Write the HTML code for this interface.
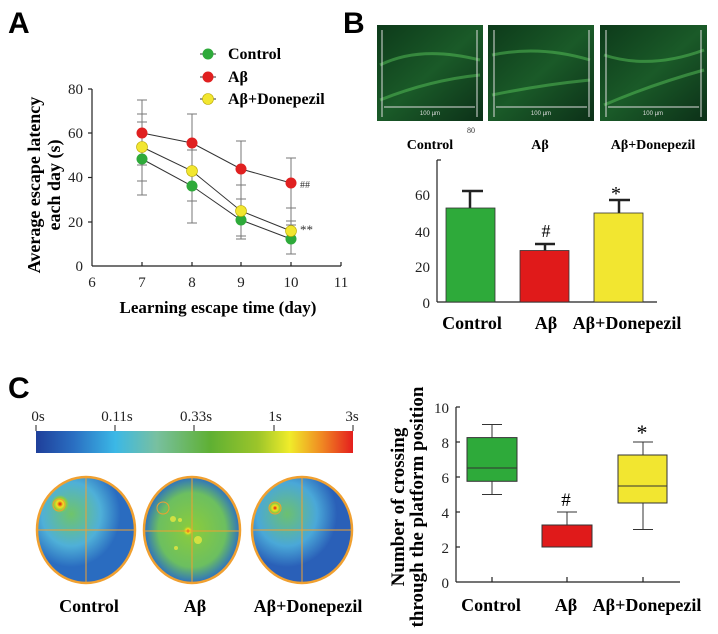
<!DOCTYPE html>
<html><head><meta charset="utf-8"><style>
body{margin:0;background:#fff}
svg{display:block;font-family:"Liberation Serif",serif}
.b{font-weight:bold}
.t{font-size:15px;fill:#222}
</style></head><body>
<svg width="718" height="634" viewBox="0 0 718 634" xmlns="http://www.w3.org/2000/svg">
<defs>
<linearGradient id="cb" x1="0" x2="1" y1="0" y2="0">
<stop offset="0" stop-color="#1f3f9a"/><stop offset="0.12" stop-color="#2a6fc2"/>
<stop offset="0.25" stop-color="#3bb8e6"/><stop offset="0.38" stop-color="#78c0a0"/>
<stop offset="0.55" stop-color="#5fb033"/><stop offset="0.7" stop-color="#9cc52a"/>
<stop offset="0.8" stop-color="#f0ec2a"/><stop offset="0.9" stop-color="#f08a22"/>
<stop offset="1" stop-color="#e41e1e"/></linearGradient>
<radialGradient id="hot"><stop offset="0" stop-color="#e01010"/><stop offset="0.35" stop-color="#f5e020"/><stop offset="0.7" stop-color="#8fcc3a"/><stop offset="1" stop-color="#8fcc3a" stop-opacity="0"/></radialGradient>
<radialGradient id="c1" cx="0.35" cy="0.35"><stop offset="0" stop-color="#6fc46a"/><stop offset="0.6" stop-color="#4fb0d8"/><stop offset="1" stop-color="#2a6cc0"/></radialGradient>
<radialGradient id="c2" cx="0.5" cy="0.5"><stop offset="0" stop-color="#8ccc3a"/><stop offset="0.7" stop-color="#6cbf60"/><stop offset="1" stop-color="#2d70c0"/></radialGradient>
<radialGradient id="c3" cx="0.35" cy="0.35"><stop offset="0" stop-color="#6cc070"/><stop offset="0.6" stop-color="#4aa8d8"/><stop offset="1" stop-color="#2a60b8"/></radialGradient>
<linearGradient id="mic" x1="0" y1="0" x2="1" y2="1"><stop offset="0" stop-color="#0d3a1a"/><stop offset="0.5" stop-color="#1a5a28"/><stop offset="1" stop-color="#0c3018"/></linearGradient>
</defs>

<!-- Panel A -->
<text x="8" y="33" font-family="Liberation Sans" font-weight="bold" font-size="30">A</text>
<g class="b" font-size="16">
<line x1="200" y1="54" x2="216" y2="54" stroke="#333"/><circle cx="208" cy="54" r="5.5" fill="#2eaa3a"/><text x="228" y="59">Control</text>
<line x1="200" y1="77" x2="216" y2="77" stroke="#333"/><circle cx="208" cy="77" r="5.5" fill="#e02020"/><text x="228" y="82">Aβ</text>
<line x1="200" y1="99" x2="216" y2="99" stroke="#333"/><circle cx="208" cy="99" r="5.5" fill="#f2e630" stroke="#b9a900" stroke-width="0.6"/><text x="228" y="104">Aβ+Donepezil</text>
</g>
<g stroke="#222" stroke-width="1.2" fill="none">
<line x1="92" y1="89" x2="92" y2="266"/><line x1="92" y1="266" x2="341" y2="266"/>
<line x1="88" y1="89" x2="92" y2="89"/><line x1="88" y1="133" x2="92" y2="133"/><line x1="88" y1="177.5" x2="92" y2="177.5"/><line x1="88" y1="222" x2="92" y2="222"/>
<line x1="142" y1="266" x2="142" y2="262"/><line x1="192" y1="266" x2="192" y2="262"/><line x1="241" y1="266" x2="241" y2="262"/><line x1="291" y1="266" x2="291" y2="262"/><line x1="341" y1="266" x2="341" y2="262"/>
</g>
<g class="t" text-anchor="end"><text x="83" y="94">80</text><text x="83" y="138">60</text><text x="83" y="182">40</text><text x="83" y="227">20</text><text x="83" y="271">0</text></g>
<g class="t" text-anchor="middle"><text x="92" y="287">6</text><text x="142" y="287">7</text><text x="192" y="287">8</text><text x="241" y="287">9</text><text x="291" y="287">10</text><text x="341" y="287">11</text></g>
<text x="218" y="313" text-anchor="middle" class="b" font-size="17">Learning escape time (day)</text>
<text transform="translate(40,185) rotate(-90)" text-anchor="middle" class="b" font-size="18">Average escape latency</text>
<text transform="translate(60,185) rotate(-90)" text-anchor="middle" class="b" font-size="18">each day (s)</text>
<g stroke="#777" stroke-width="1">
<line x1="142" y1="100" x2="142" y2="195"/><line x1="137" y1="100" x2="147" y2="100"/><line x1="137" y1="114" x2="147" y2="114"/><line x1="137" y1="122" x2="147" y2="122"/><line x1="137" y1="165" x2="147" y2="165"/><line x1="137" y1="181" x2="147" y2="181"/><line x1="137" y1="195" x2="147" y2="195"/>
<line x1="192" y1="114" x2="192" y2="223"/><line x1="187" y1="114" x2="197" y2="114"/><line x1="187" y1="150" x2="197" y2="150"/><line x1="187" y1="141" x2="197" y2="141"/><line x1="187" y1="201" x2="197" y2="201"/><line x1="187" y1="223" x2="197" y2="223"/>
<line x1="241" y1="141" x2="241" y2="239"/><line x1="236" y1="141" x2="246" y2="141"/><line x1="236" y1="185" x2="246" y2="185"/><line x1="236" y1="199" x2="246" y2="199"/><line x1="236" y1="236" x2="246" y2="236"/><line x1="236" y1="239" x2="246" y2="239"/>
<line x1="291" y1="158" x2="291" y2="254"/><line x1="286" y1="158" x2="296" y2="158"/><line x1="286" y1="208" x2="296" y2="208"/><line x1="286" y1="221" x2="296" y2="221"/><line x1="286" y1="225" x2="296" y2="225"/><line x1="286" y1="254" x2="296" y2="254"/>
</g>
<g stroke="#333" stroke-width="1" fill="none">
<polyline points="142,133 192,143 241,169 291,183"/>
<polyline points="142,147 192,171 241,211 291,231"/>
<polyline points="142,159 192,186 241,220 291,239"/>
</g>
<g stroke-width="0.6">
<circle cx="142" cy="133" r="5.5" fill="#e02020"/><circle cx="192" cy="143" r="5.5" fill="#e02020"/><circle cx="241" cy="169" r="5.5" fill="#e02020"/><circle cx="291" cy="183" r="5.5" fill="#e02020"/>
<circle cx="142" cy="159" r="5.5" fill="#2eaa3a"/><circle cx="192" cy="186" r="5.5" fill="#2eaa3a"/><circle cx="241" cy="220" r="5.5" fill="#2eaa3a"/><circle cx="291" cy="239" r="5.5" fill="#2eaa3a"/>
<g fill="#f2e630" stroke="#b9a900"><circle cx="142" cy="147" r="5.5"/><circle cx="192" cy="171" r="5.5"/><circle cx="241" cy="211" r="5.5"/><circle cx="291" cy="231" r="5.5"/></g>
</g>
<text x="300" y="188" font-size="10" fill="#333">##</text>
<text x="300" y="234" font-size="13" fill="#333">**</text>

<!-- Panel B -->
<text x="343" y="33" font-family="Liberation Sans" font-weight="bold" font-size="30">B</text>
<g>
<rect x="377" y="25" width="106" height="96" fill="url(#mic)"/>
<rect x="488" y="25" width="106" height="96" fill="url(#mic)"/>
<rect x="600" y="25" width="107" height="96" fill="url(#mic)"/>
<g stroke="#5fcf5f" stroke-width="3" opacity="0.45" fill="none">
<path d="M380 65 Q420 45 480 60"/><path d="M380 100 Q430 80 480 75"/>
<path d="M492 55 Q540 45 590 60"/><path d="M492 95 Q540 85 590 80"/>
<path d="M604 55 Q650 70 704 50"/><path d="M604 105 Q650 85 704 70"/>
</g>
<g stroke="#ddd" stroke-width="1" fill="none">
<line x1="382" y1="30" x2="382" y2="117"/><line x1="477" y1="30" x2="477" y2="117"/><line x1="384" y1="107" x2="475" y2="107"/>
<line x1="494" y1="30" x2="494" y2="117"/><line x1="589" y1="30" x2="589" y2="117"/><line x1="496" y1="107" x2="587" y2="107"/>
<line x1="606" y1="30" x2="606" y2="117"/><line x1="701" y1="30" x2="701" y2="117"/><line x1="608" y1="107" x2="699" y2="107"/>
</g>
<g font-family="Liberation Sans" font-size="6" fill="#ddd" text-anchor="middle"><text x="430" y="115">100 µm</text><text x="541" y="115">100 µm</text><text x="653" y="115">100 µm</text></g>
</g>
<g class="b" font-size="14" text-anchor="middle"><text x="430" y="149">Control</text><text x="540" y="149">Aβ</text><text x="653" y="149">Aβ+Donepezil</text></g>
<text x="467" y="133" font-size="8" fill="#333">80</text>
<g stroke="#222" stroke-width="1.2" fill="none"><line x1="437" y1="160" x2="437" y2="302"/><line x1="437" y1="160" x2="441" y2="160"/><line x1="437" y1="302" x2="657" y2="302"/></g>
<g class="t" font-size="17" text-anchor="end"><text x="430" y="200">60</text><text x="430" y="237">40</text><text x="430" y="272">20</text><text x="430" y="308">0</text></g>
<g stroke="#222" stroke-width="2.5"><line x1="470" y1="208" x2="470" y2="191"/><line x1="462" y1="191" x2="483" y2="191"/>
<line x1="545" y1="251" x2="545" y2="244"/><line x1="535" y1="244" x2="555" y2="244"/>
<line x1="619" y1="213" x2="619" y2="200"/><line x1="609" y1="200" x2="630" y2="200"/></g>
<g stroke="#333" stroke-width="0.8"><rect x="446" y="208" width="49" height="94" fill="#2eaa3a"/><rect x="520" y="250.5" width="49" height="51.5" fill="#e01a1a"/><rect x="594" y="213" width="49" height="89" fill="#f2e630"/></g>
<text x="546" y="237" text-anchor="middle" font-size="18">#</text>
<text x="616" y="200" text-anchor="middle" font-size="20">*</text>
<g class="b" font-size="18" text-anchor="middle"><text x="472" y="329">Control</text><text x="546" y="329">Aβ</text><text x="627" y="329">Aβ+Donepezil</text></g>

<!-- Panel C -->
<text x="8" y="398" font-family="Liberation Sans" font-weight="bold" font-size="30">C</text>
<rect x="36" y="431" width="317" height="22" fill="url(#cb)"/>
<g stroke="#222" stroke-width="1"><line x1="36" y1="425" x2="36" y2="431"/><line x1="115" y1="425" x2="115" y2="431"/><line x1="194" y1="425" x2="194" y2="431"/><line x1="274" y1="425" x2="274" y2="431"/><line x1="353" y1="425" x2="353" y2="431"/></g>
<g class="t" font-size="16" text-anchor="middle"><text x="38" y="421">0s</text><text x="117" y="421">0.11s</text><text x="196" y="421">0.33s</text><text x="275" y="421">1s</text><text x="352" y="421">3s</text></g>
<g stroke="#f0a030" stroke-width="2.5">
<ellipse cx="86" cy="530" rx="49" ry="53" fill="url(#c1)"/>
<ellipse cx="192" cy="530" rx="48" ry="53" fill="url(#c2)"/>
<ellipse cx="302" cy="530" rx="50" ry="53" fill="url(#c3)"/>
</g>
<circle cx="60" cy="504" r="9" fill="url(#hot)"/>
<circle cx="188" cy="531" r="6" fill="url(#hot)"/>
<circle cx="275" cy="508" r="7" fill="url(#hot)"/>
<g fill="#e8e840" opacity="0.8"><circle cx="173" cy="519" r="3"/><circle cx="180" cy="520" r="2"/><circle cx="198" cy="540" r="4"/><circle cx="176" cy="548" r="2"/></g>
<g stroke="#f0a030" stroke-width="1" fill="none">
<line x1="37" y1="530" x2="135" y2="530"/><line x1="86" y1="477" x2="86" y2="583"/>
<line x1="144" y1="531" x2="240" y2="531"/><line x1="192" y1="477" x2="192" y2="583"/>
<line x1="252" y1="530" x2="352" y2="530"/><line x1="302" y1="477" x2="302" y2="583"/>
<circle cx="59" cy="505" r="6"/><circle cx="163" cy="508" r="6"/><circle cx="275" cy="508" r="6"/>
</g>
<g class="b" font-size="18" text-anchor="middle"><text x="89" y="612">Control</text><text x="195" y="612">Aβ</text><text x="308" y="612">Aβ+Donepezil</text></g>

<g stroke="#222" stroke-width="1.2" fill="none"><line x1="456" y1="407" x2="456" y2="582"/><line x1="456" y1="582" x2="680" y2="582"/>
<line x1="456" y1="407" x2="460" y2="407"/><line x1="456" y1="442" x2="460" y2="442"/><line x1="456" y1="477" x2="460" y2="477"/><line x1="456" y1="512" x2="460" y2="512"/><line x1="456" y1="547" x2="460" y2="547"/>
<line x1="492" y1="582" x2="492" y2="577"/><line x1="567" y1="582" x2="567" y2="577"/><line x1="643" y1="582" x2="643" y2="577"/></g>
<g class="t" font-size="17" text-anchor="end"><text x="449" y="413">10</text><text x="449" y="448">8</text><text x="449" y="483">6</text><text x="449" y="518">4</text><text x="449" y="553">2</text><text x="449" y="588">0</text></g>
<g stroke="#333" stroke-width="1">
<line x1="492" y1="424.5" x2="492" y2="494.5"/><line x1="482" y1="424.5" x2="502" y2="424.5"/><line x1="482" y1="494.5" x2="502" y2="494.5"/>
<rect x="467" y="437.6" width="50" height="43.7" fill="#2eaa3a"/><line x1="467" y1="468" x2="517" y2="468"/>
<line x1="567" y1="512" x2="567" y2="526"/><line x1="557" y1="512" x2="577" y2="512"/>
<rect x="542" y="525" width="50" height="22" fill="#e01a1a"/>
<line x1="643" y1="442" x2="643" y2="529.5"/><line x1="633" y1="442" x2="653" y2="442"/><line x1="633" y1="529.5" x2="653" y2="529.5"/>
<rect x="618" y="455" width="49" height="48" fill="#f2e630"/><line x1="618" y1="486" x2="667" y2="486"/>
</g>
<text x="566" y="506" text-anchor="middle" font-size="19">#</text>
<text x="642" y="440" text-anchor="middle" font-size="22">*</text>
<g class="b" font-size="18" text-anchor="middle"><text x="491" y="611">Control</text><text x="566" y="611">Aβ</text><text x="647" y="611">Aβ+Donepezil</text></g>
<text transform="translate(404,507) rotate(-90)" text-anchor="middle" class="b" font-size="19">Number of crossing</text>
<text transform="translate(423,507) rotate(-90)" text-anchor="middle" class="b" font-size="19">through the platform position</text>
</svg>
</body></html>
